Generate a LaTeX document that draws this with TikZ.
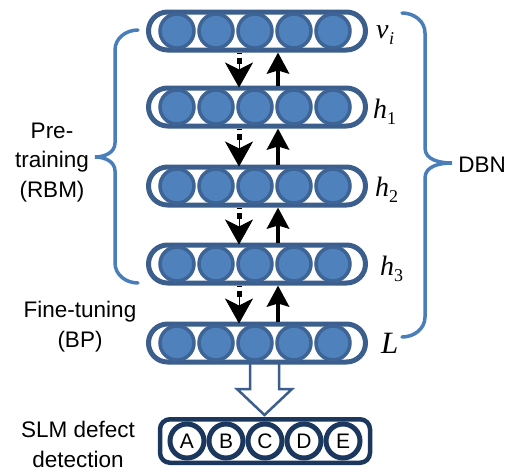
\documentclass[tikz,border=0pt]{standalone}
\usepackage{fontspec}
\setmainfont{Liberation Sans}
\newfontfamily\serifit{Liberation Serif}
\usetikzlibrary{arrows.meta}
\definecolor{barblue}{HTML}{3B5E8D}
\definecolor{unitfill}{HTML}{4F81BD}
\definecolor{unitring}{HTML}{3D6494}
\definecolor{bracecol}{HTML}{4A7EBB}
\definecolor{navy}{HTML}{1C375E}
\begin{document}
\begin{tikzpicture}[x=1pt,y=-1pt,
  layer/.style={draw=barblue, line width=5pt, fill=white, rounded corners=19pt,
    minimum width=217pt, minimum height=38pt, inner sep=0pt},
  unit/.style={circle, draw=unitring, fill=unitfill, line width=3.5pt,
    minimum size=34pt, inner sep=0pt},
  outbox/.style={draw=navy, line width=4.5pt, fill=white, rounded corners=10pt,
    minimum width=210pt, minimum height=43.5pt, inner sep=0pt},
  outunit/.style={circle, draw=navy, fill=white, line width=5pt,
    minimum size=34pt, inner sep=0pt, font=\fontsize{21}{21}\selectfont},
  dotshaft/.style={line width=5pt, dash pattern=on 1.5pt off 4pt on 5.5pt off 40pt},
  downhead/.style={line width=0.6pt, -{Stealth[length=25pt,width=28pt,inset=7pt]}},
  uparr/.style={line width=4.5pt, -{Stealth[length=21pt,width=22pt,inset=3pt]}},
  bracestyle/.style={draw=bracecol, line width=3.5pt, line cap=round},
  blockarrow/.style={draw=barblue, line width=2.5pt, fill=white, line join=miter},
  sidetext/.style={align=center, anchor=base, inner sep=0pt, font=\fontsize{22.5}{29.5}\selectfont},
  mathlabel/.style={anchor=base west, inner sep=0pt, font=\serifit\itshape\fontsize{28}{28}\selectfont}
]
\useasboundingbox (0,0) rectangle (513,471);

% braces for the pre-training block and the whole DBN
\draw[bracestyle] (138,30) to[out=180,in=90] (115,50) -- (115,143)
  to[out=-90,in=0] (95,157) to[out=0,in=90] (115,171) -- (115,263)
  to[out=-90,in=180] (138,283);
\draw[bracestyle] (402,13) to[out=0,in=90] (425,33) -- (425,148)
  to[out=-90,in=180] (452,163) to[out=180,in=90] (425,178) -- (425,317)
  to[out=-90,in=0] (402,337);

% hollow arrow from the output layer to the defect classes
\draw[blockarrow] (250,350) -- (250,389) -- (237,389) -- (264.5,415)
  -- (292,389) -- (279,389) -- (279,350);

% stacked layers of units
\foreach \n/\y in {v/31,h1/107,h2/186,h3/264,L/343} {
  \node[layer] (\n) at (257,\y) {};
  \foreach \k in {1,...,5}
    \node[unit] (\n-\k) at ({255+39*(\k-3)},\y) {};
}

% top-down (dotted) and bottom-up (solid) passes between layers
\foreach \a/\b in {v/h1,h1/h2,h2/h3,h3/L} {
  \draw[dotshaft] ([xshift=-18pt]\a.south) -- ([xshift=-18pt,yshift=-11pt]\a.south);
  \draw[downhead] ([xshift=-18pt,yshift=-10.5pt]\a.south) -- ([xshift=-18pt,yshift=-2pt]\b.north);
  \draw[uparr] ([xshift=21pt]\b.north) -- ([xshift=21pt]\a.south);
}

% classification box
\node[outbox] (out) at (265,441) {};
\foreach \t/\x in {A/187,B/226,C/265,D/304,E/343}
  \node[outunit] (o-\t) at (\x,441) {\t};

% layer labels
\node[mathlabel] (lv) at (376,38) {v\kern0.5pt\raisebox{-6pt}{\fontsize{18}{18}\selectfont i}};
\node[mathlabel] (lh1) at (373,118) {h\raisebox{-6pt}{\upshape\fontsize{18}{18}\selectfont 1}};
\node[mathlabel] (lh2) at (375,196) {h\raisebox{-6pt}{\upshape\fontsize{18}{18}\selectfont 2}};
\node[mathlabel] (lh3) at (380,275) {h\raisebox{-6pt}{\upshape\fontsize{18}{18}\selectfont 3}};
\node[mathlabel, font=\serifit\itshape\fontsize{31}{31}\selectfont] (lL) at (381,353) {L};

% side texts
\node[sidetext] (pre) at (52,197) {Pre-\\training\\(RBM)};
\node[sidetext] (fine) at (80,347) {Fine-tuning\\(BP)};
\node[sidetext] (slm) at (78,467) {SLM defect\\detection};
\node[sidetext] (dbn) at (482,172) {DBN};
\end{tikzpicture}
\end{document}
